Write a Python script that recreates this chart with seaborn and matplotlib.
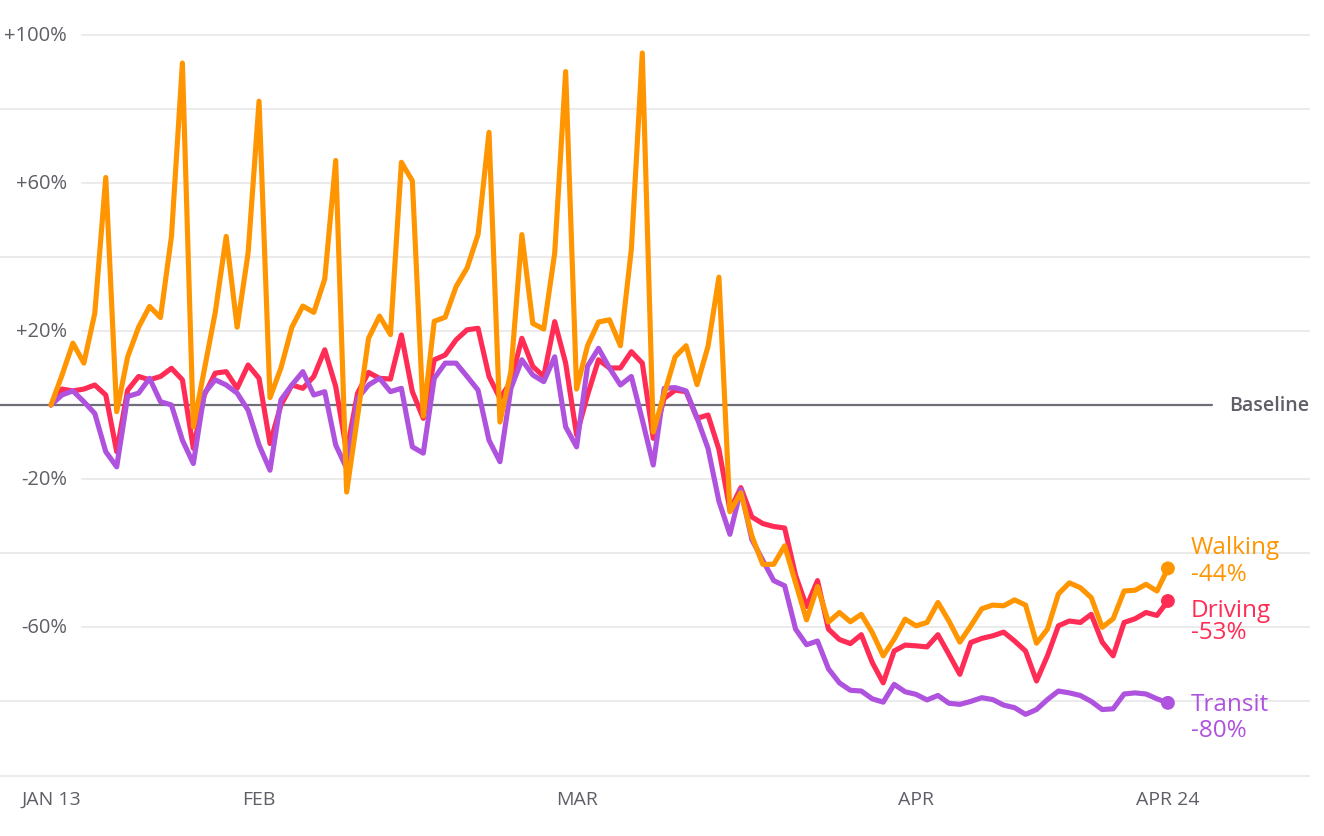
import pandas as pd
import matplotlib.pyplot as plt
import seaborn as sns

# daily change vs baseline (%), Jan 13 - Apr 24
walking = [0, 8, 16.7, 11.3, 24.8, 61.4, -1.8, 13, 21, 26.6, 23.6, 45.5, 92.3, -5.9, 9.5, 25,
           45.5, 21, 41, 82, 2, 10, 21, 26.7, 25, 34, 66, -23.5, -3, 18, 24, 19, 65.5, 60.5,
           -3, 22.6, 23.7, 32, 37, 46, 73.6, -4.6, 9, 46, 22, 20.5, 41, 90, 4.3, 16, 22.4, 23,
           16, 42, 95, -7.3, 3, 13, 16, 5.5, 15.8, 34.5, -28.8, -23.7, -35.3, -43, -43, -38,
           -48, -58, -49, -58.6, -56, -58.5, -56.5, -61.4, -67.7, -63.2, -57.8, -59.6, -58.7,
           -53.3, -58.3, -64, -59.6, -55, -54, -54.2, -52.6, -54, -64.3, -60.5, -51, -48,
           -49.3, -52, -60, -57.7, -50.2, -50, -48.4, -50.2, -44.1]
driving = [0, 4.3, 3.8, 4.3, 5.4, 2.7, -12.6, 4, 7.7, 6.8, 7.7, 9.9, 6.8, -11.7, 2.7, 8.6, 9,
           4.5, 10.8, 7.2, -10.4, 0, 5.4, 4.5, 7.7, 14.9, 5, -12.6, 3.2, 8.8, 7.2, 7, 18.9, 3.6,
           -3.6, 12.2, 13.5, 17.6, 20.3, 20.7, 7.7, 1.8, 6.3, 18, 10.4, 7.7, 22.5, 11.3, -8.1,
           2.7, 12.2, 10, 10, 14.4, 11.3, -9, 1.8, 4, 3.6, -3.6, -2.7, -12, -28.4, -22.3,
           -30.2, -32, -32.8, -33.2, -46, -54.4, -47.4, -60.5, -63.3, -64.4, -62, -69.5, -75,
           -66.4, -64.8, -65, -65.3, -62, -67.3, -72.7, -64.1, -63, -62.3, -61.3, -63.7, -66.4,
           -74.5, -67.7, -59.6, -58.3, -58.7, -56.5, -64, -67.7, -58.7, -57.7, -56, -56.8, -52.9]
transit = [0, 2.7, 3.8, 0.9, -2.3, -12.6, -16.7, 2.3, 3.2, 7.2, 0.9, 0, -9.5, -15.8, 3.2, 6.8,
           5.4, 3.2, -1.4, -10.8, -17.6, 1.4, 5.4, 9, 2.7, 3.6, -10.8, -17.1, 1.8, 5.4, 7.2, 3.6,
           4.5, -11.3, -13, 7.2, 11.3, 11.3, 7.7, 4, -9.5, -15.3, 4.5, 12.2, 8.1, 6.3, 13, -5.9,
           -11.3, 10.5, 15.3, 10, 5.4, 7.7, -4, -16.2, 4.5, 4.7, 3.8, -3.5, -11.7, -26, -34.9,
           -22.8, -36.3, -41.9, -47.4, -48.8, -60.5, -64.7, -63.7, -71.2, -75, -77, -77.2,
           -79.3, -80.2, -75.4, -77.4, -78.1, -79.6, -78.4, -80.5, -80.8, -80, -79, -79.5, -81,
           -81.7, -83.5, -82.2, -79.5, -77.2, -77.7, -78.4, -80, -82.2, -82, -78, -77.7, -78,
           -79.3, -80.4]

dates = pd.date_range("2020-01-13", periods=len(walking))
modes = ["Driving", "Transit", "Walking"]
colors = {"Walking": "#FF9500", "Driving": "#FF2D55", "Transit": "#AF52DE"}

tick_dates = ["2020-01-13", "2020-02-01", "2020-03-01", "2020-04-01", "2020-04-24"]
tick_labels = ["JAN 13", "FEB", "MAR", "APR", "APR 24"]
grid_values = [-100, -80, -60, -40, -20, 20, 40, 60, 80, 100]
labeled_values = [100, 60, 20, -20, -60]

df = pd.DataFrame({
    "date": list(dates) * 3,
    "change": driving + transit + walking,
    "mode": [m for m in modes for _ in dates],
})

sns.set_style("white")
plt.rcParams["font.family"] = ["Open Sans", "DejaVu Sans"]
text_color = "#5f5f68"

fig = plt.figure(figsize=(13.24, 8.37), dpi=100)
ax = fig.add_axes([0, 57 / 837, 1310 / 1324, 760 / 837])

# gridlines (labeled ones start after the label)
for v in grid_values:
    start = 82 / 1310 if v in labeled_values else 0
    ax.axhline(v, xmin=start, xmax=1, color="#ebebeb", lw=1.5, zorder=0)
ax.axhline(0, xmin=0, xmax=1212 / 1310, color="#6e6e78", lw=1.6, zorder=1)

sns.lineplot(data=df, x="date", y="change", hue="mode", hue_order=modes,
             palette=colors, lw=3.7, legend=False, ax=ax, zorder=3)

last = df[df["date"] == dates[-1]]
sns.scatterplot(data=last, x="date", y="change", hue="mode", hue_order=modes,
                palette=colors, s=100, edgecolor="none", legend=False, ax=ax, zorder=4)

# x range: day 0 at px 51, 10.95 px per day
x0 = dates[0] - pd.Timedelta(days=51 / 10.95)
x1 = dates[0] + pd.Timedelta(days=(1310 - 51) / 10.95)
ax.set_xlim(x0, x1)
ax.set_ylim((406 - 780) / 3.705, (406 - 20) / 3.705)

ax.set_xticks(pd.to_datetime(tick_dates))
ax.set_xticklabels(tick_labels, fontsize=14, color=text_color)
ax.tick_params(axis="x", length=0, pad=8)
ax.set_yticks([])
ax.set_xlabel("")
ax.set_ylabel("")
for s in ax.spines.values():
    s.set_visible(False)

for v in labeled_values:
    lab = f"+{v}%" if v > 0 else f"{v}%"
    ax.text(67 / 1310, v, lab, transform=ax.get_yaxis_transform(), ha="right",
            va="center", fontsize=14.5, color=text_color)

ax.text(1309 / 1310, 0, "Baseline", transform=ax.get_yaxis_transform(), ha="right",
        va="center", fontsize=14, fontweight="semibold", color=text_color)

# end labels: (name offset, value offset) in points from the end dot
label_offsets = {"Walking": (11, -8), "Driving": (-11, -27), "Transit": (-5, -24)}
end_values = {"Walking": walking[-1], "Driving": driving[-1], "Transit": transit[-1]}
for m in modes:
    v = end_values[m]
    dy1, dy2 = label_offsets[m]
    ax.annotate(m, (dates[-1], v), xytext=(16.5, dy1), textcoords="offset points",
                fontsize=17.5, color=colors[m], va="baseline", ha="left")
    ax.annotate(f"{round(v)}%", (dates[-1], v), xytext=(16.5, dy2), textcoords="offset points",
                fontsize=17.5, color=colors[m], va="baseline", ha="left")

fig.savefig("out.png", dpi=100)
